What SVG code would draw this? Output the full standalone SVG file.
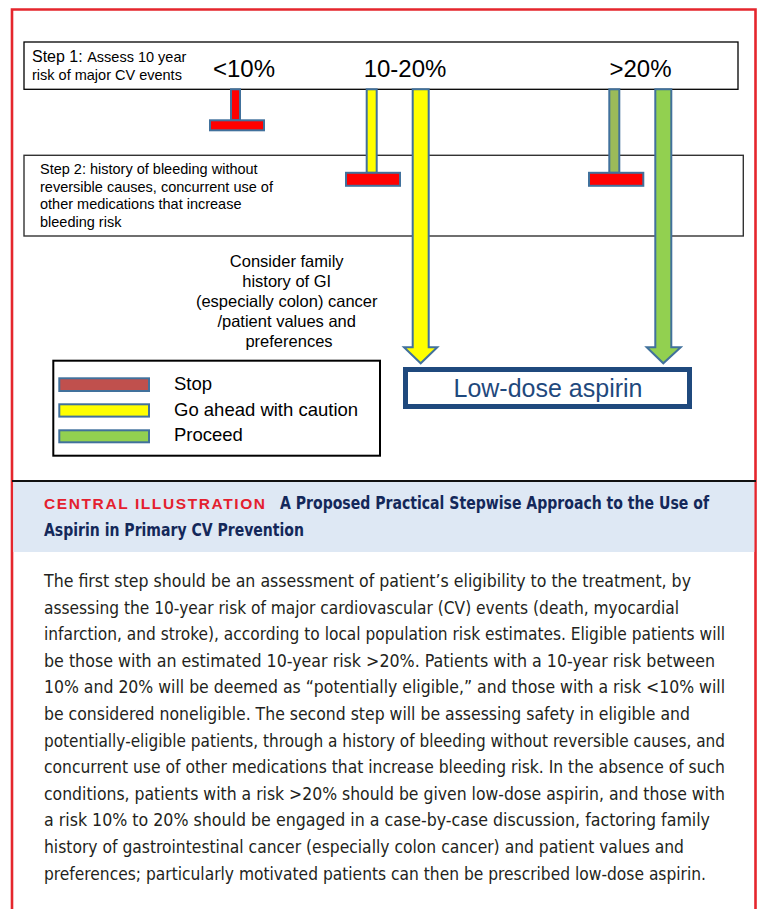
<svg xmlns="http://www.w3.org/2000/svg" width="760" height="909" viewBox="0 0 760 909">
<style>
.box{fill:#fff;stroke:#000;stroke-width:1.3}
.ar{font-family:"Liberation Sans",Arial,sans-serif;fill:#000}
.bar{stroke:#41719C;stroke-width:2}
.red{fill:#FF0000}
.body{font-family:"Liberation Sans Narrow","DejaVu Sans Condensed","Liberation Sans",sans-serif;font-size:18px;fill:#231F20}
</style>
<rect x="0" y="0" width="760" height="909" fill="#fff"/>
<!-- frame -->
<path d="M12,915 V9.5 H755.5 V915" fill="none" stroke="#E5262D" stroke-width="2.6"/>

<g id="step1">
<rect class="box" x="24" y="42" width="714" height="47.3"/>
<text class="ar" x="32" y="62" font-size="16">Step 1: <tspan font-size="14.5">Assess 10 year</tspan></text>
<text class="ar" x="32" y="80" font-size="14.5">risk of major CV events</text>
<text class="ar" x="244" y="77" font-size="24" text-anchor="middle">&lt;10%</text>
<text class="ar" x="405" y="77" font-size="24" text-anchor="middle">10-20%</text>
<text class="ar" x="640.5" y="77" font-size="24" text-anchor="middle">&gt;20%</text>
</g>

<g id="step2">
<rect x="24" y="155.3" width="719.3" height="80.7" fill="#fff" stroke="#333" stroke-width="1.4"/>
<text class="ar" x="40" y="174" font-size="14.5">Step 2: history of bleeding without</text>
<text class="ar" x="40" y="191.5" font-size="14.5">reversible causes, concurrent use of</text>
<text class="ar" x="40" y="209" font-size="14.5">other medications that increase</text>
<text class="ar" x="40" y="226.5" font-size="14.5">bleeding risk</text>
</g>

<g id="connectors">
<!-- <10% stop -->
<rect class="bar red" x="231" y="89.3" width="9" height="31"/>
<rect class="bar red" x="210" y="120.3" width="54" height="10"/>
<!-- 10-20% stop -->
<rect class="bar" fill="#FFFF00" x="366.7" y="89.3" width="10" height="83.5"/>
<rect class="bar red" x="346" y="172.8" width="54" height="13"/>
<!-- >20% stop -->
<rect class="bar" fill="#9BBB59" stroke="#7F95B5" x="609.3" y="89.3" width="10" height="83.5"/>
<rect class="bar red" x="589" y="172.8" width="54.3" height="13"/>
<!-- yellow arrow -->
<path class="bar" fill="#FFFF00" d="M412.7,89.3 H428.7 V347.3 H437.3 L420.7,363.3 L404,347.3 H412.7 Z"/>
<!-- green arrow -->
<path class="bar" fill="#92D050" d="M655.3,89.3 H671.3 V347.3 H680.7 L663.3,363.3 L646.7,347.3 H655.3 Z"/>
</g>

<g id="note">
<text class="ar" font-size="16.5" text-anchor="middle">
<tspan x="289" y="267">Consider family</tspan>
<tspan x="289" y="287">history of GI</tspan>
<tspan x="289" y="307">(especially colon) cancer</tspan>
<tspan x="289" y="327">/patient values and</tspan>
<tspan x="289" y="347">preferences</tspan>
</text>
</g>

<g id="lowdose">
<rect x="405.5" y="369.5" width="284" height="37" fill="#fff" stroke="#1F497D" stroke-width="5"/>
<text x="548" y="397" font-family="Liberation Sans,Arial,sans-serif" font-size="25" fill="#1F497D" text-anchor="middle">Low-dose aspirin</text>
</g>

<g id="legend">
<rect x="53.3" y="360.7" width="326.7" height="95" fill="#fff" stroke="#000" stroke-width="2"/>
<rect class="bar" fill="#C0504D" x="59.3" y="378.3" width="89.7" height="12.7"/>
<rect class="bar" fill="#FFFF00" x="59.3" y="404.3" width="89.7" height="12.3"/>
<rect class="bar" fill="#92D050" x="59.3" y="430.3" width="89.7" height="12"/>
<text class="ar" x="174" y="390" font-size="18.5">Stop</text>
<text class="ar" x="174" y="416" font-size="18.5">Go ahead with caution</text>
<text class="ar" x="174" y="440.5" font-size="18.5">Proceed</text>
</g>

<g id="caption">
<rect x="13.3" y="481.5" width="741" height="70.5" fill="#DEE8F4"/>
<line x1="12" y1="481" x2="756" y2="481" stroke="#111" stroke-width="2"/>
<text x="44" y="509" font-family="Liberation Sans,Arial,sans-serif" font-weight="bold" font-size="15.5" fill="#E4202E" textLength="221" lengthAdjust="spacing">CENTRAL ILLUSTRATION</text>
<text x="280" y="509" font-family="Liberation Sans Narrow,DejaVu Sans Condensed,Liberation Sans,sans-serif" font-weight="bold" font-size="17" fill="#14285A" textLength="429" lengthAdjust="spacingAndGlyphs">A Proposed Practical Stepwise Approach to the Use of</text>
<text x="44" y="536" font-family="Liberation Sans Narrow,DejaVu Sans Condensed,Liberation Sans,sans-serif" font-weight="bold" font-size="17" fill="#14285A" textLength="260" lengthAdjust="spacingAndGlyphs">Aspirin in Primary CV Prevention</text>
</g>

<g id="bodytext" class="body">
<text x="44" y="587" textLength="647" lengthAdjust="spacingAndGlyphs">The first step should be an assessment of patient’s eligibility to the treatment, by</text>
<text x="44" y="613.6" textLength="635" lengthAdjust="spacingAndGlyphs">assessing the 10-year risk of major cardiovascular (CV) events (death, myocardial</text>
<text x="44" y="640.2" textLength="681" lengthAdjust="spacingAndGlyphs">infarction, and stroke), according to local population risk estimates. Eligible patients will</text>
<text x="44" y="666.8" textLength="671" lengthAdjust="spacingAndGlyphs">be those with an estimated 10-year risk &gt;20%. Patients with a 10-year risk between</text>
<text x="44" y="693.4" textLength="681" lengthAdjust="spacingAndGlyphs">10% and 20% will be deemed as “potentially eligible,” and those with a risk &lt;10% will</text>
<text x="44" y="720" textLength="646" lengthAdjust="spacingAndGlyphs">be considered noneligible. The second step will be assessing safety in eligible and</text>
<text x="44" y="746.6" font-size="17.4" textLength="681" lengthAdjust="spacingAndGlyphs">potentially-eligible patients, through a history of bleeding without reversible causes, and</text>
<text x="44" y="773.2" textLength="681" lengthAdjust="spacingAndGlyphs">concurrent use of other medications that increase bleeding risk. In the absence of such</text>
<text x="44" y="799.8" textLength="681" lengthAdjust="spacingAndGlyphs">conditions, patients with a risk &gt;20% should be given low-dose aspirin, and those with</text>
<text x="44" y="826.4" textLength="666" lengthAdjust="spacingAndGlyphs">a risk 10% to 20% should be engaged in a case-by-case discussion, factoring family</text>
<text x="44" y="853" textLength="640" lengthAdjust="spacingAndGlyphs">history of gastrointestinal cancer (especially colon cancer) and patient values and</text>
<text x="44" y="879.6" textLength="662" lengthAdjust="spacingAndGlyphs">preferences; particularly motivated patients can then be prescribed low-dose aspirin.</text>
</g>
</svg>
